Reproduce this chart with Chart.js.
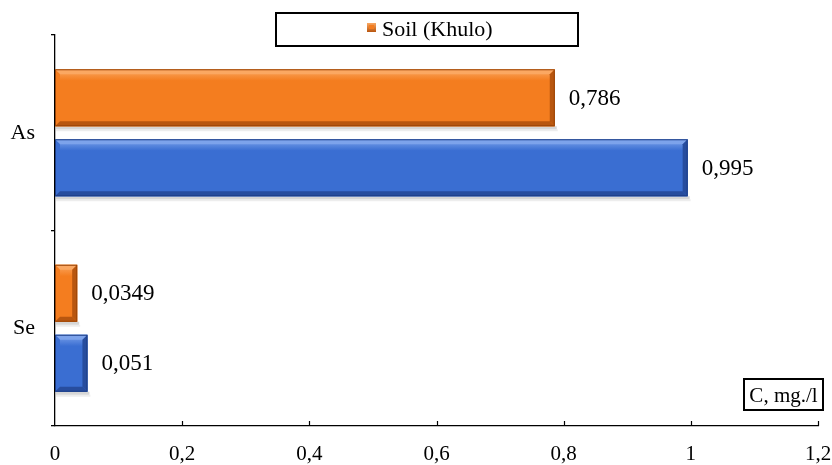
<!DOCTYPE html>
<html>
<head>
<meta charset="utf-8">
<script src="https://cdn.jsdelivr.net/npm/chart.js@4/dist/chart.umd.min.js"></script>
<style>
  html, body { margin: 0; padding: 0; background: #ffffff; }
  #wrap { position: relative; width: 832px; height: 465px; }
</style>
</head>
<body>
<div id="wrap"><canvas id="c" width="832" height="465"></canvas></div>
<script>
// Element concentrations, C (mg/l)
const elements = ['As', 'Se'];
const soilKhulo = [0.786, 0.0349];
const secondSample = [0.995, 0.051];
const axisMin = 0;
const axisMax = 1.2;
const axisStep = 0.2;
const unitLabel = 'C, mg./l';

const SERIF = '"Liberation Serif", "Times New Roman", serif';

const palette = {
  orange: { face: '#F47D1F', light: '#FBA862', dark: '#B8560F', edge: '#9A4508' },
  blue:   { face: '#3A6ED2', light: '#7DA3EB', dark: '#274D9E', edge: '#1E3E86' }
};

// decimal comma
const fmt = v => String(v).split('.').join(',');
const tickText = v => fmt(Math.round(Number(v) * 10) / 10);

// Soft shadow under each bar
const barShadow = {
  id: 'barShadow',
  beforeDatasetsDraw(chart) {
    const ctx = chart.ctx;
    ctx.save();
    chart.data.datasets.forEach((ds, i) => {
      chart.getDatasetMeta(i).data.forEach(el => {
        const L = Math.min(el.base, el.x), R = Math.max(el.base, el.x);
        const B = el.y + el.height / 2;
        ctx.fillStyle = 'rgba(0,0,0,0.16)';
        ctx.fillRect(L + 1, B, R - L + 1, 3);
        ctx.fillStyle = 'rgba(0,0,0,0.07)';
        ctx.fillRect(L + 1, B + 3, R - L + 2, 2);
      });
    });
    ctx.restore();
  }
};

// Bevelled face drawn over each bar
const barBevel = {
  id: 'barBevel',
  afterDatasetsDraw(chart) {
    const ctx = chart.ctx;
    ctx.save();
    chart.data.datasets.forEach((ds, i) => {
      const p = ds.bevel;
      chart.getDatasetMeta(i).data.forEach(el => {
        const L = Math.min(el.base, el.x), R = Math.max(el.base, el.x);
        const T = el.y - el.height / 2, B = el.y + el.height / 2;
        const b = Math.min(5, (R - L) / 3);
        const g = ctx.createLinearGradient(0, T, 0, B);
        g.addColorStop(0, p.light);
        g.addColorStop(0.2, p.face);
        g.addColorStop(1, p.face);
        ctx.fillStyle = g;
        ctx.fillRect(L, T, R - L, B - T);
        const poly = (pts, col) => {
          ctx.beginPath();
          ctx.moveTo(pts[0][0], pts[0][1]);
          for (let k = 1; k < pts.length; k++) ctx.lineTo(pts[k][0], pts[k][1]);
          ctx.closePath();
          ctx.fillStyle = col;
          ctx.fill();
        };
        poly([[L, T], [R, T], [R - b, T + b], [L + b, T + b]], p.light);
        poly([[L, T], [L + b, T + b], [L + b, B - b], [L, B]], p.face);
        poly([[L, B], [R, B], [R - b, B - b], [L + b, B - b]], p.dark);
        poly([[R, T], [R, B], [R - b, B - b], [R - b, T + b]], p.dark);
        ctx.strokeStyle = p.edge;
        ctx.lineWidth = 1;
        ctx.strokeRect(L + 0.5, T + 0.5, R - L - 1, B - T - 1);
      });
    });
    ctx.restore();
  }
};

// Value labels to the right of bars
const valueLabels = {
  id: 'valueLabels',
  afterDatasetsDraw(chart) {
    const ctx = chart.ctx;
    ctx.save();
    ctx.font = '23px ' + SERIF;
    ctx.fillStyle = '#000';
    ctx.textBaseline = 'middle';
    ctx.textAlign = 'left';
    chart.data.datasets.forEach((ds, i) => {
      chart.getDatasetMeta(i).data.forEach((el, j) => {
        ctx.fillText(fmt(ds.data[j]), el.x + 14, el.y + 1);
      });
    });
    ctx.restore();
  }
};

// Inward tick marks on the value axis, framed legend and unit box
const decorations = {
  id: 'decorations',
  afterDraw(chart) {
    const ctx = chart.ctx;
    const xs = chart.scales.x;
    const area = chart.chartArea;
    ctx.save();
    ctx.strokeStyle = '#000';
    ctx.lineWidth = 1.2;
    xs.ticks.forEach(t => {
      if (t.value === axisMin) return;
      const px = Math.round(xs.getPixelForValue(t.value)) + 0.5;
      ctx.beginPath();
      ctx.moveTo(px, area.bottom);
      ctx.lineTo(px, area.bottom - 5);
      ctx.stroke();
    });

    // legend box
    ctx.lineWidth = 2;
    ctx.strokeRect(276, 13, 302, 33);
    const o = palette.orange;
    const g = ctx.createLinearGradient(0, 23, 0, 32);
    g.addColorStop(0, o.light);
    g.addColorStop(1, o.dark);
    ctx.fillStyle = g;
    ctx.fillRect(367, 23, 9, 9);
    ctx.fillStyle = o.face;
    ctx.fillRect(369, 25, 5, 4);
    ctx.fillStyle = '#000';
    ctx.font = '22px ' + SERIF;
    ctx.textBaseline = 'middle';
    ctx.textAlign = 'left';
    ctx.fillText(chart.data.datasets[0].label, 382, 30);

    // unit box
    ctx.lineWidth = 2;
    ctx.strokeRect(744, 379, 79, 31);
    ctx.font = '21px ' + SERIF;
    ctx.textAlign = 'center';
    ctx.fillText(unitLabel, 783.5, 396);
    ctx.restore();
  }
};

new Chart(document.getElementById('c'), {
  type: 'bar',
  data: {
    labels: elements,
    datasets: [
      {
        label: 'Soil (Khulo)',
        data: soilKhulo,
        backgroundColor: palette.orange.face,
        bevel: palette.orange,
        borderWidth: 0,
        categoryPercentage: 0.716,
        barPercentage: 0.814
      },
      {
        label: 'Sample 2',
        data: secondSample,
        backgroundColor: palette.blue.face,
        bevel: palette.blue,
        borderWidth: 0,
        categoryPercentage: 0.716,
        barPercentage: 0.814
      }
    ]
  },
  options: {
    indexAxis: 'y',
    responsive: false,
    animation: false,
    devicePixelRatio: 1,
    layout: { padding: { top: 35, right: 0, left: 0, bottom: 0 } },
    plugins: {
      legend: { display: false },
      tooltip: { enabled: false }
    },
    scales: {
      x: {
        type: 'linear',
        position: 'bottom',
        min: axisMin,
        max: axisMax,
        ticks: {
          stepSize: axisStep,
          color: '#000',
          font: { family: SERIF, size: 21 },
          padding: 8,
          maxRotation: 0,
          callback: function (value) { return tickText(value); }
        },
        grid: { display: false },
        border: { display: true, color: '#000', width: 1.3 },
        afterFit: s => {
          s.height = 39;
          s.paddingRight = 14;
          s.paddingLeft = 0;
        }
      },
      y: {
        type: 'category',
        ticks: {
          color: '#000',
          font: { family: SERIF, size: 22 },
          padding: 16
        },
        grid: {
          offset: true,
          drawOnChartArea: false,
          drawTicks: true,
          tickLength: 4,
          color: '#000',
          lineWidth: 1.3
        },
        border: { display: true, color: '#000', width: 1.3 },
        afterFit: s => { s.width = 55; }
      }
    }
  },
  plugins: [barShadow, barBevel, valueLabels, decorations]
});
</script>
</body>
</html>
